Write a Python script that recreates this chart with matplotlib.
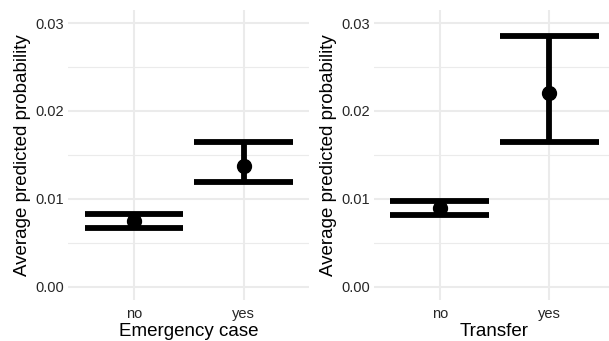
import matplotlib
matplotlib.use("Agg")
import matplotlib.pyplot as plt
import numpy as np

plt.rcParams['font.family'] = ['Liberation Sans', 'DejaVu Sans']

categories = ["no", "yes"]
emerg_est = [0.00753, 0.01378]
emerg_lo = [0.0067, 0.0119]
emerg_hi = [0.0083, 0.01644]
trans_est = [0.00898, 0.02205]
trans_lo = [0.00818, 0.01644]
trans_hi = [0.00974, 0.02852]
xlabels = ["Emergency case", "Transfer"]
ylabel = "Average predicted probability"
yticks = [0.00, 0.01, 0.02, 0.03]
yticklabels = ["0.00", "0.01", "0.02", "0.03"]

W, H = 609, 341
fig = plt.figure(figsize=(W / 100, H / 100), dpi=100)

ax_w = 241 / W
ax_b = (H - 300.2) / H
ax_h = 290.4 / H
lefts = [68.3 / W, 374 / W]

panels = [(emerg_est, emerg_lo, emerg_hi), (trans_est, trans_lo, trans_hi)]
grid_c = "#ebebeb"
for i, (est, lo, hi) in enumerate(panels):
    ax = fig.add_axes([lefts[i], ax_b, ax_w, ax_h])
    x = np.arange(1, len(categories) + 1)
    ax.set_xlim(0.4, 2.6)
    ax.set_ylim(-0.0015, 0.0315)
    for s in ax.spines.values():
        s.set_visible(False)
    # grid
    for yv in [0.005, 0.015, 0.025]:
        ax.axhline(yv, color=grid_c, lw=0.8, zorder=0)
    for yv in yticks:
        ax.axhline(yv, color=grid_c, lw=1.5, zorder=0)
    for xv in x:
        ax.axvline(xv, color=grid_c, lw=1.5, zorder=0)
    ax.vlines(x, lo, hi, color="black", lw=4.2, zorder=2)
    ax.hlines(lo, x - 0.45, x + 0.45, color="black", lw=4.2, zorder=2)
    ax.hlines(hi, x - 0.45, x + 0.45, color="black", lw=4.2, zorder=2)
    ax.plot(x, est, "o", color="black", ms=10, zorder=3)
    ax.set_xticks(x)
    ax.set_xticklabels(categories)
    ax.set_yticks(yticks)
    ax.set_yticklabels(yticklabels)
    ax.tick_params(length=0, labelsize=10.5, colors="#262626")
    ax.tick_params(axis="x", pad=5)
    ax.tick_params(axis="y", pad=3)
    ax.set_xlabel(xlabels[i], fontsize=13.5, labelpad=1)
    ax.set_ylabel(ylabel, fontsize=13.5, labelpad=3)

fig.savefig("out.png", dpi=100)
